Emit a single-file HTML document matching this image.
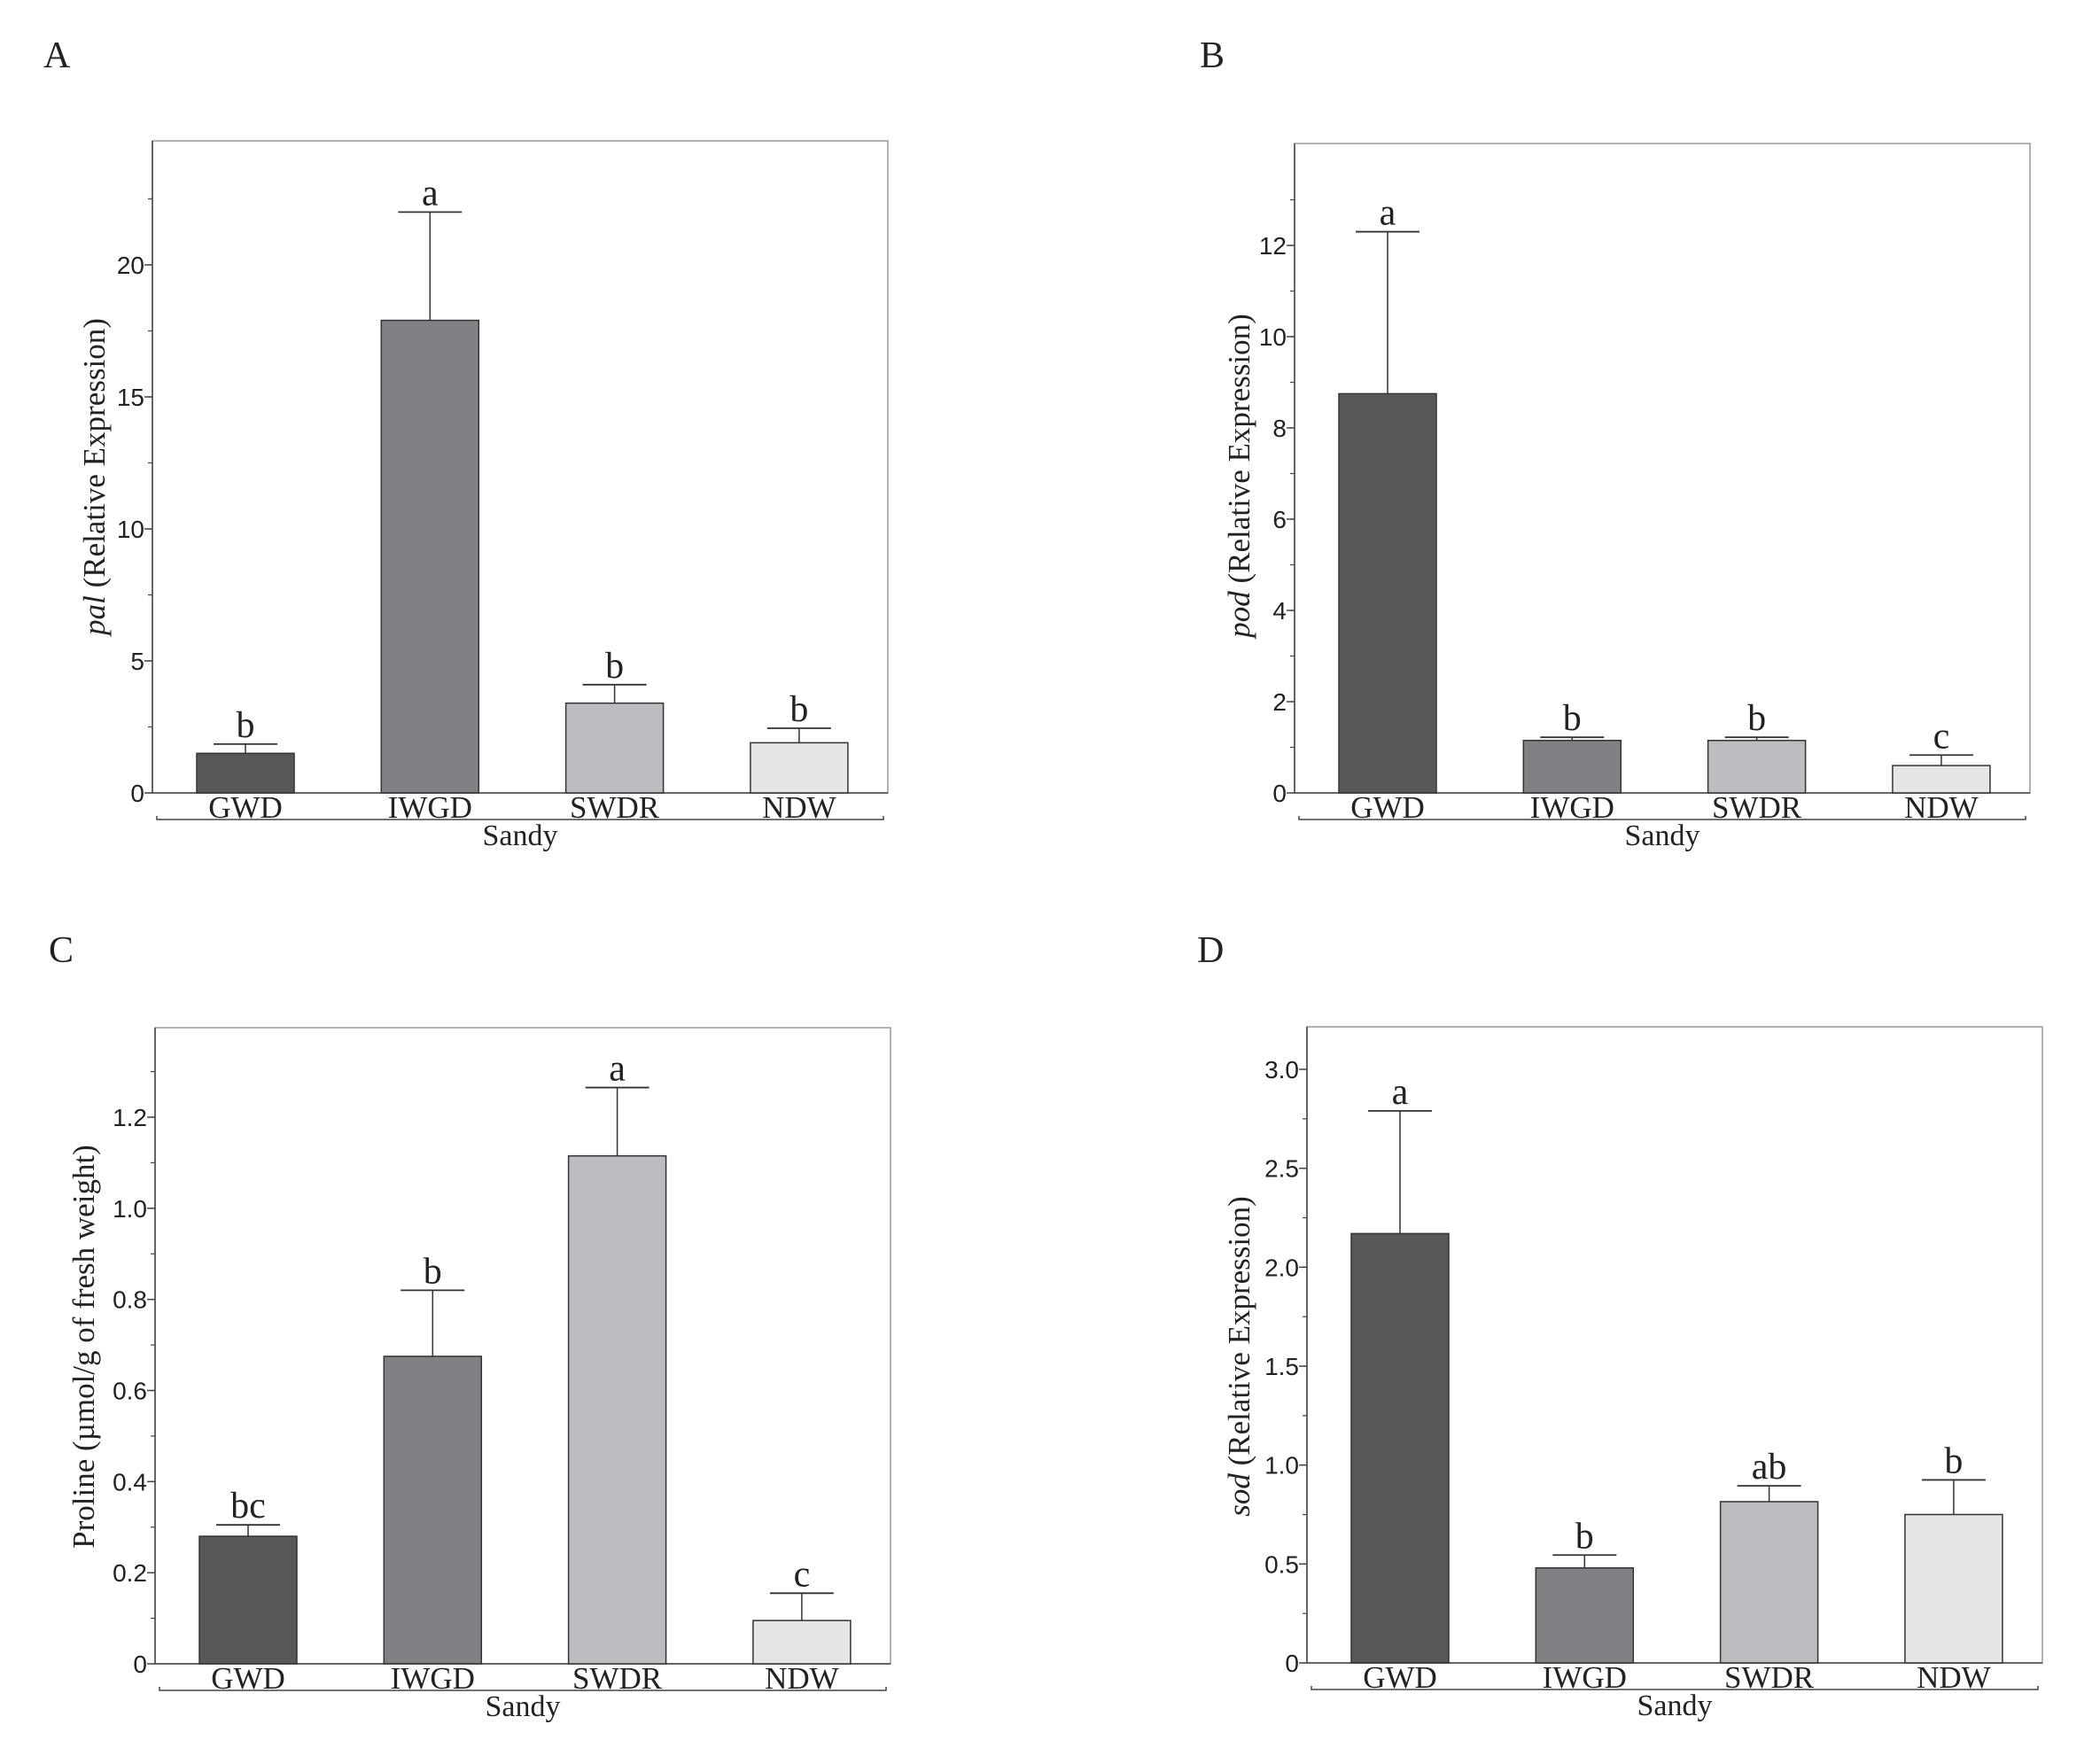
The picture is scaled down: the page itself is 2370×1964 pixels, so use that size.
<!DOCTYPE html>
<html><head><meta charset="utf-8"><style>
body{margin:0;background:#fff}
svg{display:block}
text{font-family:"Liberation Serif",serif;fill:#222}
.tk{font-family:"Liberation Sans",sans-serif;font-size:28px}
</style></head><body>
<svg id="fig" width="2370" height="1964" viewBox="0 0 2370 1964" xmlns="http://www.w3.org/2000/svg"></svg>
<script>
const categories = ["GWD","IWGD","SWDR","NDW"];
const colors = ["#58585a","#808184","#bcbdc0","#e6e6e6"];
const valuesA = [1.5, 17.9, 3.4, 1.9];
const errTopA = [1.85, 22.0, 4.1, 2.45];
const lettersA = ["b","a","b","b"];
const ticksA = [0,5,10,15,20];
const tickLabelsA = ["0","5","10","15","20"];
const valuesB = [8.75, 1.15, 1.15, 0.6];
const errTopB = [12.3, 1.22, 1.22, 0.83];
const lettersB = ["a","b","b","c"];
const ticksB = [0,2,4,6,8,10,12];
const tickLabelsB = ["0","2","4","6","8","10","12"];
const valuesC = [0.28, 0.675, 1.115, 0.095];
const errTopC = [0.305, 0.82, 1.265, 0.155];
const lettersC = ["bc","b","a","c"];
const ticksC = [0,0.2,0.4,0.6,0.8,1.0,1.2];
const tickLabelsC = ["0","0.2","0.4","0.6","0.8","1.0","1.2"];
const valuesD = [2.17, 0.48, 0.815, 0.75];
const errTopD = [2.79, 0.545, 0.895, 0.925];
const lettersD = ["a","b","ab","b"];
const ticksD = [0,0.5,1.0,1.5,2.0,2.5,3.0];
const tickLabelsD = ["0","0.5","1.0","1.5","2.0","2.5","3.0"];

const NS="http://www.w3.org/2000/svg";
const svg=document.getElementById('fig');
function mk(tag,attrs,parent,txt){const e=document.createElementNS(NS,tag);for(const k in attrs)e.setAttribute(k,attrs[k]);if(txt!==undefined)e.textContent=txt;(parent||svg).appendChild(e);return e;}

function panel(cfg){
  const g=mk('g',{});
  
  
  const L=cfg.left,R=cfg.left+830,T=cfg.top,B=cfg.bottom;
  const y=v=>B-(v/cfg.max)*(B-cfg.yMaxPx);
  const pl=mk('text',{x:cfg.lx,y:cfg.ly,'font-size':42},g,cfg.id);
  
  
  const box=mk('rect',{x:L,y:T,width:R-L,height:B-T,fill:'none',stroke:'#999','stroke-width':1.5},g);
  
  
  mk('line',{x1:L,y1:T,x2:L,y2:B,stroke:'#444','stroke-width':1.5},g);
  mk('line',{x1:L,y1:B,x2:R,y2:B,stroke:'#444','stroke-width':1.5},g);
  for(let v=0;v<=cfg.minorMax+1e-9;v+=cfg.minor){
    mk('line',{x1:L-5,y1:y(v),x2:L,y2:y(v),stroke:'#444','stroke-width':1.2},g);
  }
  cfg.ticks.forEach((v,i)=>{
    mk('line',{x1:L-9,y1:y(v),x2:L,y2:y(v),stroke:'#444','stroke-width':1.5},g);
    const t=mk('text',{x:L-9,y:y(v)+10,'text-anchor':'end',class:'tk'},g,cfg.tickLabels[i]);
    
    
  });
  const cap=mk('text',{transform:`translate(${cfg.tx},${cfg.ty}) rotate(-90)`,'text-anchor':'middle','font-size':35},g);
  
  
  if(cfg.ital){mk('tspan',{'font-style':'italic'},cap,cfg.ital);mk('tspan',{},cap,' (Relative Expression)');}
  else cap.textContent=cfg.title;
  categories.forEach((c,i)=>{
    const cx=L+105+208.3*i;
    const v=cfg.values[i],e=cfg.err[i];
    mk('line',{x1:cx,y1:y(v),x2:cx,y2:y(e),stroke:'#333','stroke-width':1.5},g);
    mk('line',{x1:cx-36,y1:y(e),x2:cx+36,y2:y(e),stroke:'#333','stroke-width':1.8},g);
    const r=mk('rect',{x:cx-55,y:y(v),width:110,height:B-y(v),fill:colors[i],stroke:'#333','stroke-width':1.5},g);
    
    
    const lt=mk('text',{x:cx,y:y(e)-8,'text-anchor':'middle','font-size':42},g,cfg.letters[i]);
    
    
    const xl=mk('text',{x:cx,y:B+28,'text-anchor':'middle','font-size':35},g,c);
    
    
  });
  mk('path',{d:`M${L+5},${B+26} L${L+5},${B+30} L${R-5},${B+30} L${R-5},${B+26}`,fill:'none',stroke:'#444','stroke-width':1.5},g);
  const s=mk('text',{x:(L+R)/2,y:B+59,'text-anchor':'middle','font-size':34},g,'Sandy');
  
  
}
panel({id:'A',left:172,top:159,bottom:895,max:20,yMaxPx:299,values:valuesA,err:errTopA,letters:lettersA,ticks:ticksA,tickLabels:tickLabelsA,minor:2.5,minorMax:22.5,lx:49,ly:76,tx:118,ty:538,ital:'pal'});
panel({id:'B',left:1461,top:162,bottom:895,max:12,yMaxPx:277,values:valuesB,err:errTopB,letters:lettersB,ticks:ticksB,tickLabels:tickLabelsB,minor:1,minorMax:13,lx:1354,ly:76,tx:1410,ty:537,ital:'pod'});
panel({id:'C',left:175,top:1160,bottom:1878,max:1.2,yMaxPx:1261,values:valuesC,err:errTopC,letters:lettersC,ticks:ticksC,tickLabels:tickLabelsC,minor:0.1,minorMax:1.3,lx:55,ly:1086,tx:106,ty:1520,title:'Proline (µmol/g of fresh weight)'});
panel({id:'D',left:1475,top:1159,bottom:1877,max:3,yMaxPx:1207,values:valuesD,err:errTopD,letters:lettersD,ticks:ticksD,tickLabels:tickLabelsD,minor:0.25,minorMax:2.75,lx:1351,ly:1086,tx:1410,ty:1531,ital:'sod'});
</script>
</body></html>
